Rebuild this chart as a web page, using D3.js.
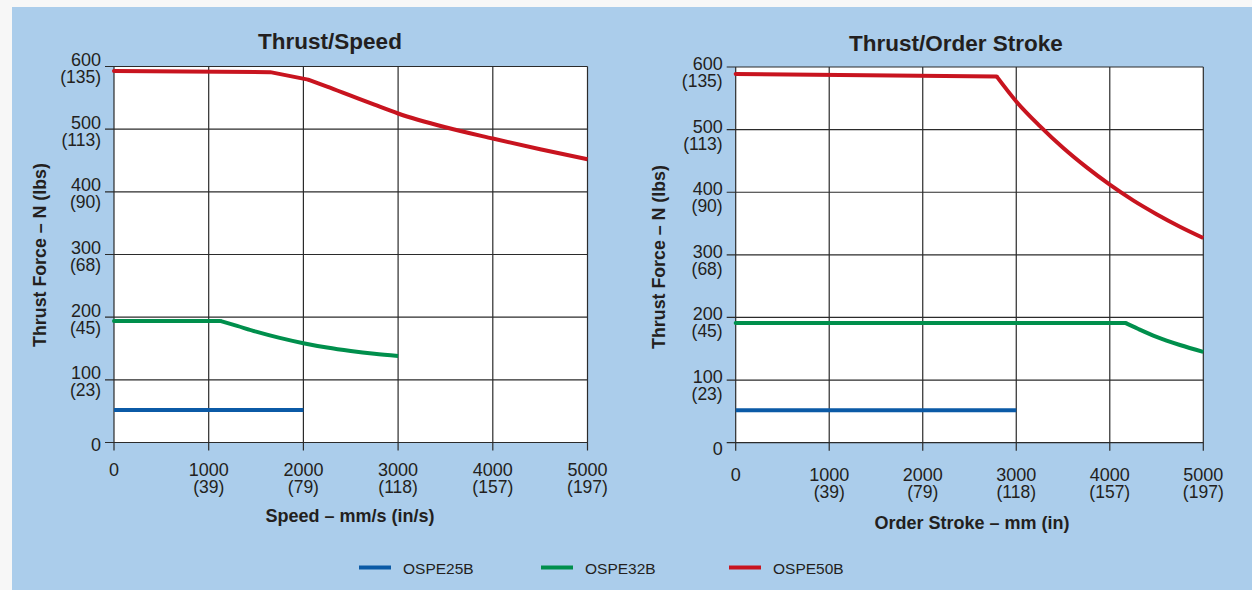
<!DOCTYPE html>
<html>
<head>
<meta charset="utf-8">
<script src="https://cdn.jsdelivr.net/npm/d3@7"></script>
<style>
  html, body { margin: 0; padding: 0; background: #f7f7f7; }
  svg { display: block; }
  text { font-family: "Liberation Sans", Arial, Helvetica, sans-serif; fill: #231f20; }
</style>
</head>
<body>
<svg id="chart" width="1252" height="590"></svg>
<script>
// Axis ticks: newtons with pound equivalents, millimetres with inch equivalents
const forceTicks = [0, 100, 200, 300, 400, 500, 600];
const forceTickLbs = ["", "(23)", "(45)", "(68)", "(90)", "(113)", "(135)"];
const mmTicks = [0, 1000, 2000, 3000, 4000, 5000];
const mmTickInches = ["", "(39)", "(79)", "(118)", "(157)", "(197)"];

const seriesNames = ["OSPE25B", "OSPE32B", "OSPE50B"];
const seriesColors = ["#0b5aa6", "#008f4c", "#c8141f"];

// Thrust vs speed  [mm/s, N]
const speedOSPE25B = [[0, 52], [2000, 52]];
const speedOSPE32B = [[0, 194], [1120, 194], [1300, 186], [1500, 177], [1750, 167], [2000, 158.5], [2250, 151.5], [2500, 146], [2750, 141.5], [3000, 138]];
const speedOSPE50B = [[0, 593], [1650, 591], [2050, 579], [2250, 568], [2500, 553.5], [2750, 539], [3000, 525], [3500, 503], [4000, 485], [4500, 468], [5000, 452]];

// Thrust vs order stroke  [mm, N]
const strokeOSPE25B = [[0, 52], [3000, 52]];
const strokeOSPE32B = [[0, 191], [4170, 191], [4300, 182], [4500, 169], [4750, 156], [5000, 145]];
const strokeOSPE50B = [[0, 589], [2790, 585], [3000, 545], [3250, 506], [3500, 471], [3750, 440], [4000, 412], [4250, 387], [4500, 365], [4750, 345], [5000, 327]];

const svg = d3.select("#chart");

// light blue backdrop
svg.append("rect").attr("x", 12).attr("y", 7).attr("width", 1240).attr("height", 583).attr("fill", "#abcdeb");

// each curve: straight leading segments up to `straight` points, smooth afterwards
const panels = [
  {
    title: "Thrust/Speed", titleX: 330, titleY: 49,
    xLabel: "Speed – mm/s (in/s)", xLabelX: 350, xLabelY: 522,
    yLabelX: 46, yLabelY: 255,
    x0: 114, x1: 587.5, y0: 442.5, y1: 66.5,
    yTextDy: 0, xTextY: 476,
    series: [speedOSPE25B, speedOSPE32B, speedOSPE50B],
    straight: [2, 2, 3]
  },
  {
    title: "Thrust/Order Stroke", titleX: 956, titleY: 51,
    xLabel: "Order Stroke – mm (in)", xLabelX: 972, xLabelY: 529,
    yLabelX: 665, yLabelY: 257,
    x0: 735.7, x1: 1203.3, y0: 442.7, y1: 67,
    yTextDy: 3.5, xTextY: 481,
    series: [strokeOSPE25B, strokeOSPE32B, strokeOSPE50B],
    straight: [2, 2, 2]
  }
];

panels.forEach(p => {
  const x = d3.scaleLinear().domain([0, 5000]).range([p.x0, p.x1]);
  const y = d3.scaleLinear().domain([0, 600]).range([p.y0, p.y1]);
  const g = svg.append("g");

  g.append("rect")
    .attr("x", p.x0).attr("y", p.y1)
    .attr("width", p.x1 - p.x0).attr("height", p.y0 - p.y1)
    .attr("fill", "#ffffff");

  // grid + outside ticks
  g.selectAll(".hgrid").data(forceTicks).join("line")
    .attr("x1", p.x0 - 9).attr("x2", p.x1)
    .attr("y1", d => y(d)).attr("y2", d => y(d))
    .attr("stroke", "#2b2b2b").attr("stroke-width", 1.2);
  g.selectAll(".vgrid").data(mmTicks).join("line")
    .attr("x1", d => x(d)).attr("x2", d => x(d))
    .attr("y1", p.y1).attr("y2", p.y0 + 8)
    .attr("stroke", "#2b2b2b").attr("stroke-width", 1.2);

  // y tick labels: newtons with pounds on a second line
  forceTicks.forEach((t, i) => {
    const lx = p.x0 - 13;
    const label = g.append("text").attr("text-anchor", "end").attr("font-size", 18);
    if (!forceTickLbs[i]) {
      label.attr("x", lx).attr("y", y(t) + 8.5 + p.yTextDy).text(t);
    } else {
      label.attr("x", lx).attr("y", y(t) - 0.5 + p.yTextDy);
      label.append("tspan").text(t);
      label.append("tspan").attr("x", lx).attr("dy", 17).attr("font-size", 17.5).text(forceTickLbs[i]);
    }
  });

  // x tick labels: millimetres with inches on a second line
  mmTicks.forEach((t, i) => {
    const label = g.append("text").attr("text-anchor", "middle").attr("font-size", 18)
      .attr("x", x(t)).attr("y", p.xTextY);
    label.append("tspan").text(t);
    if (mmTickInches[i]) {
      label.append("tspan").attr("x", x(t)).attr("dy", 16.5).attr("font-size", 17.5).text(mmTickInches[i]);
    }
  });

  g.append("text").attr("x", p.titleX).attr("y", p.titleY)
    .attr("text-anchor", "middle").attr("font-size", 22.5).attr("font-weight", "bold").text(p.title);
  g.append("text").attr("x", p.xLabelX).attr("y", p.xLabelY)
    .attr("text-anchor", "middle").attr("font-size", 18).attr("font-weight", "bold").text(p.xLabel);
  g.append("text")
    .attr("transform", `translate(${p.yLabelX},${p.yLabelY}) rotate(-90)`)
    .attr("text-anchor", "middle").attr("font-size", 17.8).attr("font-weight", "bold")
    .text("Thrust Force – N (lbs)");

  const straightLine = d3.line().x(d => x(d[0])).y(d => y(d[1])).curve(d3.curveLinear);
  const smoothLine = d3.line().x(d => x(d[0])).y(d => y(d[1])).curve(d3.curveMonotoneX);
  p.series.forEach((s, i) => {
    const k = p.straight[i];
    const parts = [s.slice(0, k)];
    if (s.length > k) parts.push(s.slice(k - 1));
    parts.forEach((part, j) => {
      g.append("path").datum(part)
        .attr("d", j === 0 ? straightLine : smoothLine)
        .attr("fill", "none")
        .attr("stroke", seriesColors[i])
        .attr("stroke-width", 4)
        .attr("stroke-linejoin", "round")
        .attr("stroke-linecap", j === 0 && parts.length > 1 ? "round" : "butt");
    });
  });
});

// legend
const legendX = [359, 541, 729];
const legend = svg.append("g");
seriesNames.forEach((name, i) => {
  legend.append("line")
    .attr("x1", legendX[i]).attr("x2", legendX[i] + 32)
    .attr("y1", 567.5).attr("y2", 567.5)
    .attr("stroke", seriesColors[i]).attr("stroke-width", 4);
  legend.append("text")
    .attr("x", legendX[i] + 44).attr("y", 573.5)
    .attr("font-size", 15.5).text(name);
});
</script>
</body>
</html>
